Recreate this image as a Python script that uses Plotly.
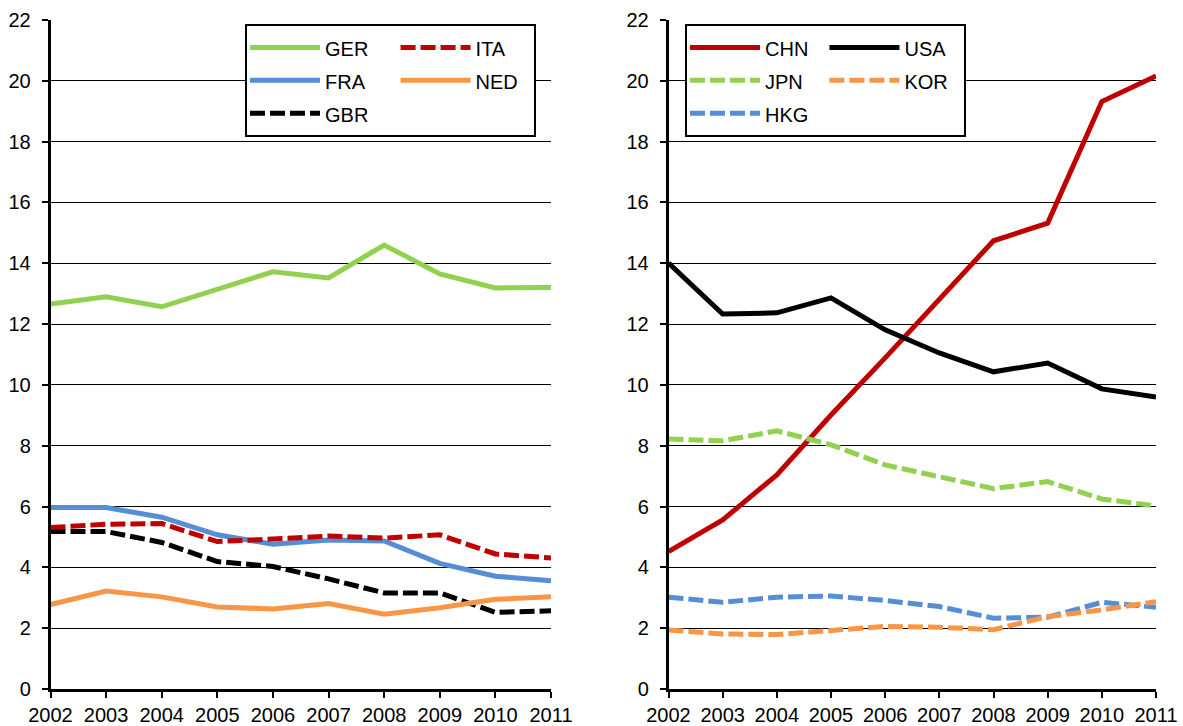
import plotly.graph_objects as go

years = [2002, 2003, 2004, 2005, 2006, 2007, 2008, 2009, 2010, 2011]
year_labels = [str(y) for y in years]
y_ticks = list(range(0, 23, 2))

# Left panel (Europe)
ger = [12.66, 12.90, 12.57, 13.13, 13.72, 13.52, 14.60, 13.65, 13.19, 13.20]
ita = [5.31, 5.42, 5.44, 4.85, 4.93, 5.03, 4.96, 5.07, 4.44, 4.31]
fra = [5.97, 5.97, 5.65, 5.07, 4.76, 4.90, 4.87, 4.13, 3.71, 3.56]
ned = [2.78, 3.22, 3.03, 2.70, 2.63, 2.81, 2.46, 2.67, 2.95, 3.03]
gbr = [5.18, 5.18, 4.82, 4.19, 4.03, 3.62, 3.16, 3.16, 2.52, 2.57]

# Right panel
chn = [4.52, 5.56, 7.04, 9.01, 10.89, 12.80, 14.74, 15.32, 19.32, 20.16]
usa = [14.01, 12.33, 12.37, 12.86, 11.81, 11.05, 10.43, 10.72, 9.87, 9.60]
jpn = [8.22, 8.16, 8.49, 8.03, 7.37, 6.97, 6.59, 6.82, 6.25, 6.02]
kor = [1.94, 1.81, 1.79, 1.92, 2.06, 2.03, 1.95, 2.38, 2.60, 2.87]
hkg = [3.02, 2.85, 3.02, 3.06, 2.91, 2.71, 2.33, 2.36, 2.85, 2.69]

GREEN = "#92D050"
RED = "#C00000"
BLUE = "#558ED5"
ORANGE = "#F79646"
BLACK = "#000000"
DASH = "15px,5px"
FONT = "Liberation Sans, Arial, sans-serif"
NB = "\u00a0"

def lbl(t, pad):
    return "<span style='font-size:20px'>" + t + NB * pad + "</span>"

fig = go.Figure()

def add(name, pad, vals, color, dash, xa, ya, legend, group):
    fig.add_trace(go.Scatter(
        x=years, y=vals, mode="lines", name=lbl(name, pad),
        line=dict(color=color, width=5, dash=dash),
        xaxis=xa, yaxis=ya, legend=legend, legendgroup=group,
        hoverinfo="x+y",
    ))

# left: column a = GER, FRA, GBR ; column b = ITA, NED
add("GER", 4, ger, GREEN, "solid", "x", "y", "legend", "la")
add("FRA", 4, fra, BLUE, "solid", "x", "y", "legend", "la")
add("GBR", 4, gbr, BLACK, DASH, "x", "y", "legend", "la")
add("ITA", 2, ita, RED, DASH, "x", "y", "legend", "lb")
add("NED", 2, ned, ORANGE, "solid", "x", "y", "legend", "lb")

# right: column a = CHN, JPN, HKG ; column b = USA, KOR
add("CHN", 2, chn, RED, "solid", "x2", "y2", "legend2", "ra")
add("JPN", 2, jpn, GREEN, DASH, "x2", "y2", "legend2", "ra")
add("HKG", 2, hkg, BLUE, DASH, "x2", "y2", "legend2", "ra")
add("USA", 2, usa, BLACK, "solid", "x2", "y2", "legend2", "rb")
add("KOR", 2, kor, ORANGE, DASH, "x2", "y2", "legend2", "rb")

W, H = 1183, 726
ydom = [1 - 689 / H, 1 - 20 / H]

xcommon = dict(
    range=[2002, 2011], tickvals=years, ticktext=year_labels,
    showline=True, linecolor=BLACK, linewidth=2.5,
    ticks="outside", ticklen=6, tickwidth=2, tickcolor=BLACK,
    showgrid=False, zeroline=False, automargin=False,
    tickfont=dict(family=FONT, size=20, color=BLACK),
)
ycommon = dict(
    range=[0, 22], tickvals=y_ticks,
    showline=True, linecolor=BLACK, linewidth=2.5,
    ticks="outside", ticklen=6, tickwidth=2, tickcolor=BLACK,
    showgrid=True, gridcolor=BLACK, gridwidth=1, zeroline=False,
    automargin=False, ticklabelstandoff=7,
    tickfont=dict(family=FONT, size=20, color=BLACK),
    domain=ydom,
)

legcommon = dict(
    orientation="h", traceorder="grouped", xanchor="left", yanchor="top",
    bgcolor="white", bordercolor=BLACK, borderwidth=2,
    font=dict(family=FONT, size=23, color=BLACK), itemwidth=70,
)

fig.update_layout(
    width=W, height=H,
    margin=dict(l=0, r=0, t=0, b=0, autoexpand=False),
    paper_bgcolor="white", plot_bgcolor="white",
    showlegend=True,
    xaxis=dict(domain=[50.5 / W, 551 / W], anchor="y", **xcommon),
    yaxis=dict(anchor="x", **ycommon),
    xaxis2=dict(domain=[668.5 / W, 1156 / W], anchor="y2", **xcommon),
    yaxis2=dict(anchor="x2", **ycommon),
    legend=dict(x=245 / W, y=1 - 24 / H, **legcommon),
    legend2=dict(x=685 / W, y=1 - 24 / H, **legcommon),
)

fig.write_html(
    "out.html",
    config={"displayModeBar": False},
    post_script="document.body.style.margin='0';document.body.style.overflow='hidden';",
)
